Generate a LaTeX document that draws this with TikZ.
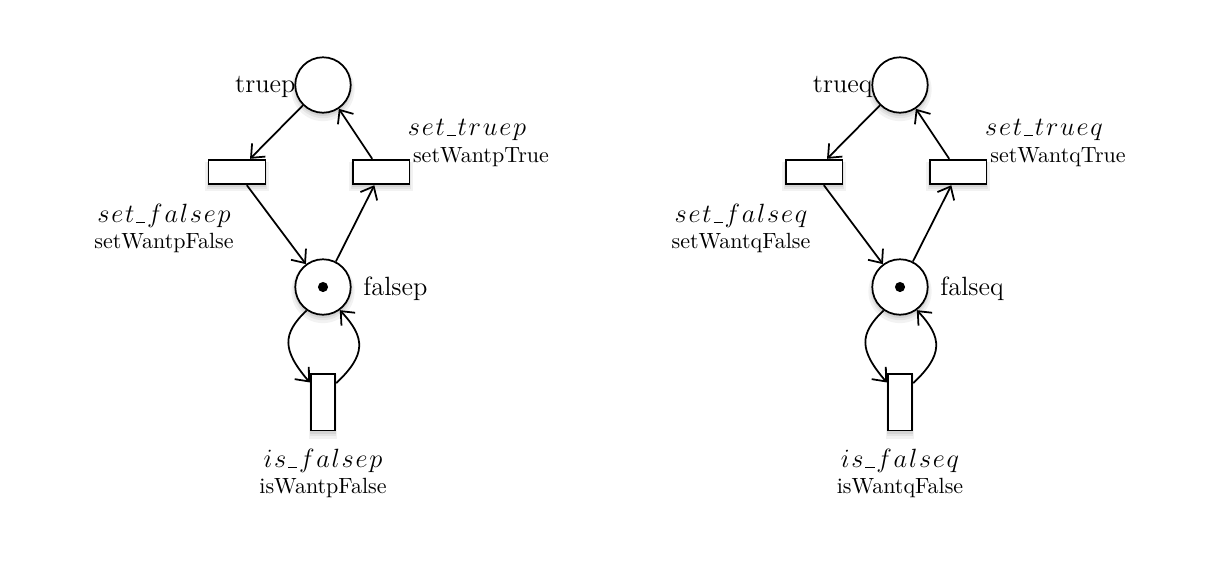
\documentclass[tikz,border=0pt]{standalone}
\usetikzlibrary{arrows.meta,shadows}
\newcommand\usc{\rule[-0.4pt]{4.2pt}{0.55pt}}
\begin{document}
\begin{tikzpicture}[x=0.4545pt,y=-0.4545pt,
  softshadow/.style={
    general shadow={fill=black,opacity=0.05,shadow yshift=-1.8pt,shadow scale=1.14},
    general shadow={fill=black,opacity=0.06,shadow yshift=-1.5pt,shadow scale=1.07},
    general shadow={fill=black,opacity=0.07,shadow yshift=-1.2pt,shadow scale=1.02}},
  place/.style={circle,draw,thick,fill=white,minimum size=25.2pt,inner sep=0pt,softshadow},
  htrans/.style={rectangle,draw,thick,fill=white,minimum width=25.8pt,minimum height=11.2pt,inner sep=0pt,softshadow},
  vtrans/.style={rectangle,draw,thick,fill=white,minimum width=11.2pt,minimum height=25.8pt,inner sep=0pt,softshadow},
  tok/.style={circle,fill=black,minimum size=4.6pt,inner sep=0pt},
  arc/.style={thick,-{Straight Barb[length=5pt,width=8.5pt]}},
  biglab/.style={font=\fontsize{12}{14}\selectfont,inner sep=0pt},
  smalllab/.style={font=\fontsize{10}{12}\selectfont,inner sep=0pt}]
\useasboundingbox (0,0) rectangle (1221,563);
\foreach \o/\v in {0/p,577/q}{
  \begin{scope}[xshift=\o*0.4545pt]
  \node[place] (tp\v) at (323,85) {};
  \node[place] (fp\v) at (323,287) {};
  \node[tok] (tk\v) at (323,287) {};
  \node[htrans] (sf\v) at (237,172) {};
  \node[htrans] (st\v) at (381,172) {};
  \node[vtrans] (if\v) at (323,402) {};
  \node[biglab,anchor=east] (ltp\v) at (296,87) {true\v};
  \node[biglab,anchor=west] (lfp\v) at (363,289) {false\v};
  \node[biglab] (lst\v) at (467,130) {$s\mkern1.2mu e\mkern1.2mu t\mkern1.2mu\usc\mkern1.2mu t\mkern1.2mu r\mkern1.2mu u\mkern1.2mu e\mkern1.2mu \v$};
  \node[smalllab] (nst\v) at (481,157) {setWant\v True};
  \node[biglab] (lsf\v) at (164,216) {$s\mkern1.2mu e\mkern1.2mu t\mkern1.2mu\usc\mkern1.2mu f\mkern1.2mu a\mkern1.2mu l\mkern1.2mu s\mkern1.2mu e\mkern1.2mu \v$};
  \node[smalllab] (nsf\v) at (164,243) {setWant\v False};
  \node[biglab] (lif\v) at (323,461) {$i\mkern1.2mu s\mkern1.2mu\usc\mkern1.2mu f\mkern1.2mu a\mkern1.2mu l\mkern1.2mu s\mkern1.2mu e\mkern1.2mu \v$};
  \node[smalllab] (nif\v) at (323,488) {isWant\v False};
  \draw[arc] (tp\v) -- (sf\v);
  \draw[arc] (sf\v) -- (fp\v);
  \draw[arc] (fp\v) -- (st\v);
  \draw[arc] (st\v) -- (tp\v);
  \draw[arc] (fp\v.235) .. controls (282,334) and (282,350) .. (if\v.124);
  \draw[arc] (if\v.55) .. controls (366,355) and (366,338) .. (fp\v.-54);
  \end{scope}
}
\end{tikzpicture}
\end{document}
